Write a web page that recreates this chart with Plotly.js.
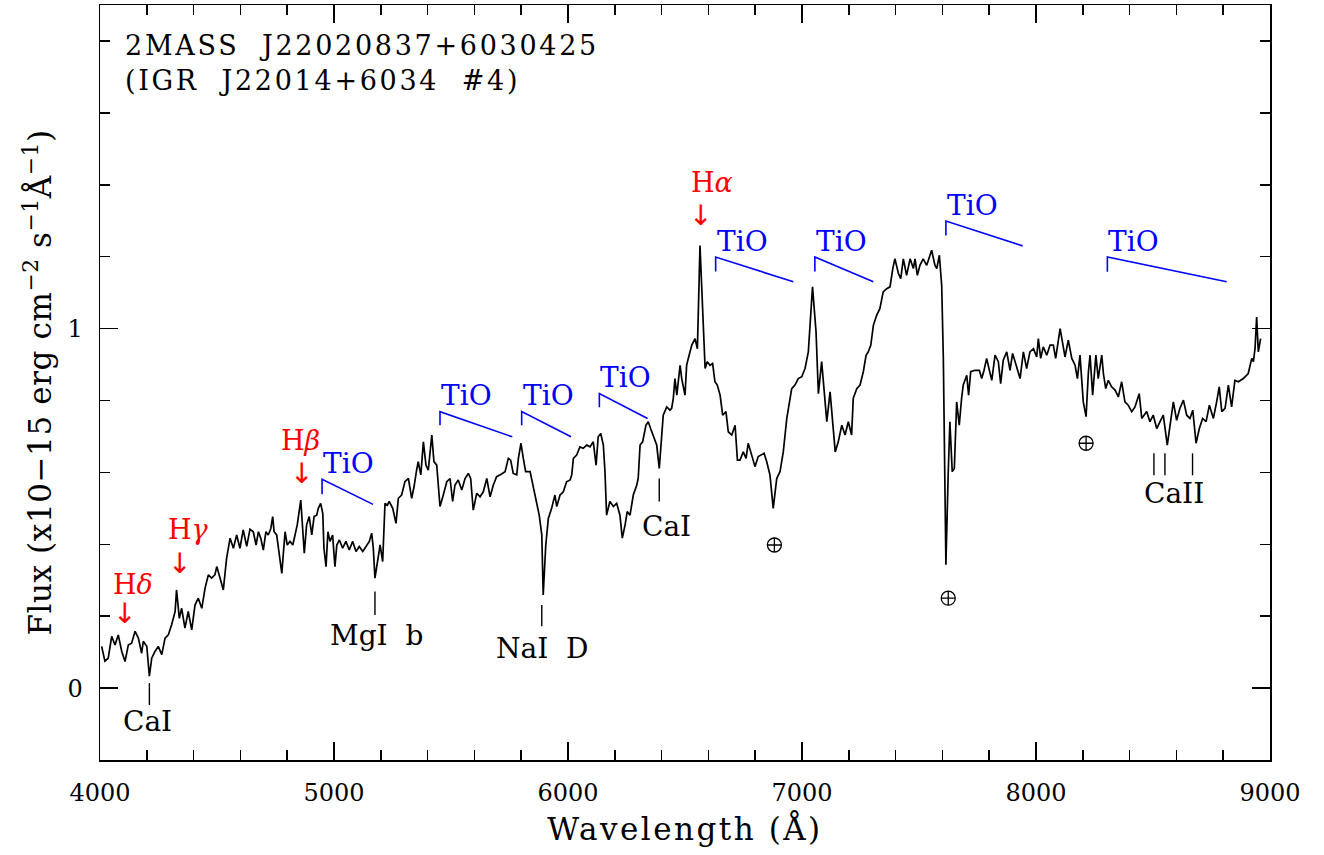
<!DOCTYPE html>
<html>
<head>
<meta charset="utf-8">
<script src="https://cdn.plot.ly/plotly-3.0.1.min.js"></script>
<style>
  html, body { margin: 0; padding: 0; background: #ffffff; }
  #chart { width: 1324px; height: 855px; }
  /* wide glyph spacing of the original (Hershey-like) lettering */
  text.gtitle { letter-spacing: 2.7px; }
  text.xtitle { letter-spacing: 2.5px; }
  text.ytitle { letter-spacing: 0.6px; }
</style>
</head>
<body>
<div id="chart"></div>
<script>
// ---------------- spectrum (wavelength in Angstrom, flux in 1e-15 erg cm-2 s-1 A-1) ----------------
const wavelength = [
  4007,4021,4035,4050,4064,4078,4093,4107,4121,4135,
  4150,4164,4178,4185,4200,4211,4221,4235,4249,4264,
  4278,4292,4306,4321,4327,4339,4349,4363,4377,4392,
  4406,4420,4435,4449,4463,4477,4491,4499,4513,4527,
  4541,4556,4570,4584,4598,4612,4627,4641,
  4655,4667,4677,4687,4698,4709,4719,4730,4738,4744,
  4755,4766,4777,4783,4791,4800,4812,4824,4833,4843,
  4858,4866,4873,4883,4894,4905,4915,4926,4933,4943,
  4952,4957,4966,4974,4983,4994,5004,5012,5023,5037,
  5051,5065,5080,5094,5108,5123,5137,5151,5161,5168,
  5175,5185,5197,5208,5218,5228,5236,5251,5265,5275,
  5289,5303,5318,5332,5342,5353,5360,5371,5382,5393,
  5403,5418,5427,5439,5453,
  5467,5482,5496,5507,5517,5531,5546,5560,5574,5584,
  5595,5610,5624,5638,5653,5667,5681,5695,5709,5731,
  5745,5755,5766,5781,5788,5799,5809,5819,5838,5852,
  5866,5877,5888,5894,5905,5916,5930,5944,5952,5966,
  5980,5994,6009,6016,6023,6037,6051,6065,6080,6094,
  6108,6120,6129,6140,6151,6158,6165,6179,6194,6208,
  6222,6232,6244,6253,6265,6279,6294,6300,6308,6319,
  6333,6343,6353,6365,6379,6390,6400,6407,6422,6436,
  6443,6450,6457,6465,6479,6486,6500,6507,6514,6529,
  6543,6553,6564,6576,6586,6595,6607,6618,6628,6638,
  6650,6661,6675,6685,6700,6714,6724,6735,6749,6761,
  6770,6785,6799,6813,6823,6838,6849,6863,6877,6892,
  6906,6920,6935,6949,6956,6970,6984,6999,7013,7027,
  7045,7060,7070,7084,7094,7106,7120,7134,7142,7155,
  7170,7184,7198,7212,7219,7234,7248,7262,7274,7283,
  7294,7305,7319,7333,7347,7362,7376,7388,7397,7412,
  7422,7433,7447,7462,7476,7483,7493,7504,7518,7533,
  7554,7568,7576,7587,7597,7604,7615,7625,7632,7642,
  7651,7661,7672,7682,7689,7704,7712,7721,7739,7758,
  7768,7778,7789,7799,7811,7825,7839,7849,7860,7875,
  7889,7900,7918,7932,7946,7960,7974,7989,8003,8010,
  8020,8031,8046,8060,8074,8084,8103,8114,8124,8138,
  8153,8167,8177,8188,8202,8214,8224,8231,8242,8256,
  8266,8281,8288,8298,8309,8323,8338,8352,8366,8380,
  8394,8409,8423,8441,8452,8473,8487,8501,8516,8530,
  8544,8561,8576,8587,8601,8615,8630,8644,8658,8670,
  8684,8698,8712,8727,8741,8758,8772,8783,8794,8808,
  8822,8836,8850,8865,8886,8907,8922,8929,8936,8943,
  8950,8960
];
const flux = [
  0.116,0.075,0.083,0.144,0.120,0.148,0.102,0.074,0.120,0.125,
  0.158,0.139,0.097,0.130,0.116,0.033,0.083,0.102,0.116,0.093,
  0.139,0.148,0.176,0.213,0.273,0.194,0.222,0.167,0.213,0.162,
  0.231,0.250,0.222,0.278,0.315,0.306,0.315,0.338,0.306,0.273,
  0.361,0.417,0.389,0.426,0.389,0.440,0.394,0.442,
  0.435,0.398,0.435,0.417,0.384,0.435,0.426,0.444,0.477,0.435,
  0.426,0.370,0.319,0.370,0.435,0.398,0.408,0.398,0.426,0.454,
  0.523,0.454,0.375,0.454,0.477,0.426,0.477,0.481,0.500,0.514,
  0.486,0.389,0.338,0.435,0.408,0.426,0.338,0.398,0.412,0.389,
  0.408,0.384,0.408,0.380,0.394,0.380,0.394,0.408,0.431,0.389,
  0.306,0.343,0.398,0.352,0.514,0.509,0.519,0.500,0.458,0.528,
  0.537,0.574,0.583,0.528,0.560,0.606,0.630,0.593,0.685,0.620,
  0.606,0.704,0.630,0.620,0.505,
  0.537,0.574,0.583,0.519,0.565,0.579,0.551,0.583,0.597,0.583,
  0.495,0.542,0.532,0.546,0.583,0.532,0.565,0.588,0.593,0.602,
  0.639,0.634,0.597,0.593,0.639,0.681,0.639,0.602,0.602,0.556,
  0.519,0.481,0.426,0.259,0.398,0.472,0.500,0.537,0.505,0.537,
  0.546,0.574,0.579,0.593,0.639,0.648,0.671,0.667,0.676,0.671,
  0.685,0.620,0.699,0.708,0.676,0.602,0.481,0.519,0.505,0.514,
  0.481,0.417,0.454,0.491,0.481,0.537,0.565,0.583,0.676,0.685,
  0.731,0.741,0.722,0.699,0.676,0.611,0.713,0.759,0.782,0.773,
  0.778,0.806,0.861,0.815,0.898,0.861,0.815,0.898,0.917,0.954,
  0.972,0.944,1.231,1.028,0.889,0.908,0.898,0.903,0.852,0.843,
  0.815,0.759,0.769,0.713,0.704,0.731,0.634,0.634,0.657,0.639,
  0.681,0.648,0.616,0.644,0.648,0.653,0.630,0.593,0.500,0.583,
  0.602,0.657,0.750,0.806,0.833,0.843,0.861,0.866,0.889,0.935,
  1.116,0.991,0.819,0.908,0.824,0.741,0.824,0.731,0.657,0.685,
  0.731,0.704,0.741,0.704,0.806,0.833,0.843,0.880,0.926,0.935,
  0.954,1.009,1.037,1.056,1.102,1.111,1.116,1.167,1.194,1.153,
  1.139,1.194,1.148,1.194,1.167,1.194,1.148,1.176,1.194,1.176,
  1.218,1.176,1.167,1.204,1.120,0.917,0.343,0.602,0.741,0.602,
  0.611,0.796,0.731,0.806,0.843,0.870,0.815,0.880,0.884,0.884,
  0.861,0.884,0.917,0.889,0.856,0.926,0.908,0.847,0.912,0.935,
  0.884,0.931,0.889,0.861,0.935,0.889,0.935,0.944,0.921,0.972,
  0.917,0.949,0.926,0.954,0.954,0.917,1.000,0.954,0.921,0.968,
  0.917,0.898,0.861,0.926,0.796,0.755,0.880,0.926,0.815,0.926,
  0.861,0.926,0.875,0.833,0.856,0.838,0.829,0.810,0.852,0.796,
  0.787,0.769,0.782,0.819,0.750,0.769,0.741,0.759,0.722,0.741,
  0.759,0.676,0.741,0.796,0.745,0.778,0.801,0.759,0.750,0.773,
  0.681,0.722,0.750,0.741,0.787,0.750,0.796,0.838,0.769,0.778,
  0.843,0.782,0.856,0.852,0.861,0.875,0.917,0.908,0.944,1.032,
  0.935,0.972
];

// ---------------- TiO band markers ----------------
const tioStart = [4949, 5453, 5802, 6134, 6631, 7055, 7615, 8305];
const tioEnd   = [5167, 5762, 6013, 6340, 6963, 7305, 7943, 8815];
const tioTop   = [0.581, 0.769, 0.769, 0.819, 1.199, 1.199, 1.299, 1.199];
const tioLow   = [0.539, 0.731, 0.731, 0.781, 1.159, 1.159, 1.259, 1.158];
const tioEndY  = [0.511, 0.699, 0.699, 0.750, 1.130, 1.130, 1.230, 1.130];

// ---------------- absorption line identifications ----------------
const lineLabels  = ["CaI", "MgI\u00a0\u00a0b", "NaI\u00a0\u00a0D", "CaI", "CaII"];
const lineLabelX  = [4205, 5180, 5889, 6419, 8590];
const lineLabelY  = [-0.092, 0.147, 0.111, 0.450, 0.542];
const lineTickX   = [4211, 5175, 5888, 6390, 8504, 8551, 8669];
const lineTickTop = [0.014, 0.269, 0.231, 0.583, 0.653, 0.653, 0.653];
const lineTickBot = [-0.047, 0.203, 0.172, 0.519, 0.592, 0.592, 0.592];

// ---------------- telluric features ----------------
const telluricX = [6882, 7625, 8214];
const telluricY = [0.398, 0.250, 0.681];

// ---------------- Balmer emission lines ----------------
const balmerLabels = ["H<i>δ</i>", "H<i>γ</i>", "H<i>β</i>", "H<i>α</i>"];
const balmerTextX  = [4139, 4378, 4855, 6615];
const balmerTextY  = [0.289, 0.440, 0.690, 1.407];
const balmerArrowX = [4103, 4338, 4859, 6568];
const balmerArrowY = [0.208, 0.347, 0.597, 1.315];

// ---------------- text ----------------
const titleLines = ["2MASS\u00a0\u00a0J22020837+6030425", "(IGR\u00a0\u00a0J22014+6034\u00a0\u00a0#4)"];
const xTitle = "Wavelength (Å)";
const yTitle = "Flux (x10−15 erg cm<sup>−2</sup> s<sup>−1</sup>Å<sup>−1</sup>)";

const BLUE = "#0000ff", RED = "#ff0000", BLACK = "#000000";
const FONT = "DejaVu Serif, Liberation Serif, serif";

// build segment traces
const tioX = [], tioY = [];
tioStart.forEach((s, i) => {
  tioX.push(s, s, tioEnd[i], null);
  tioY.push(tioLow[i], tioTop[i], tioEndY[i], null);
});
const tickX = [], tickY = [];
lineTickX.forEach((x, i) => {
  tickX.push(x, x, null);
  tickY.push(lineTickTop[i], lineTickBot[i], null);
});

const traces = [
  { x: wavelength, y: flux, type: "scatter", mode: "lines",
    line: { color: BLACK, width: 1.7 }, hoverinfo: "skip", showlegend: false },
  { x: tioX, y: tioY, type: "scatter", mode: "lines",
    line: { color: BLUE, width: 1.6 }, hoverinfo: "skip", showlegend: false },
  { x: tickX, y: tickY, type: "scatter", mode: "lines",
    line: { color: BLACK, width: 1.4 }, hoverinfo: "skip", showlegend: false },
  { x: telluricX, y: telluricY, type: "scatter", mode: "markers",
    marker: { symbol: "circle-cross-open", size: 14, color: BLACK, line: { width: 1.3, color: BLACK } },
    hoverinfo: "skip", showlegend: false }
];

const annotations = [];
tioStart.forEach((s, i) => {
  annotations.push({ x: s, y: tioTop[i], xref: "x", yref: "y", text: "TiO",
    showarrow: false, xanchor: "left", yanchor: "middle", xshift: -1, yshift: 16,
    font: { family: FONT, size: 28, color: BLUE } });
});
lineLabels.forEach((t, i) => {
  annotations.push({ x: lineLabelX[i], y: lineLabelY[i], xref: "x", yref: "y", text: t,
    showarrow: false, xanchor: "center", yanchor: "middle",
    font: { family: FONT, size: 28, color: BLACK } });
});
balmerLabels.forEach((t, i) => {
  annotations.push({ x: balmerTextX[i], y: balmerTextY[i], xref: "x", yref: "y", text: t,
    showarrow: false, xanchor: "center", yanchor: "middle",
    font: { family: FONT, size: 27, color: RED } });
  annotations.push({ x: balmerArrowX[i], y: balmerArrowY[i], xref: "x", yref: "y", text: "↓",
    showarrow: false, xanchor: "center", yanchor: "middle",
    font: { family: "DejaVu Sans, sans-serif", size: 28, color: RED } });
});

const axisCommon = {
  showgrid: false, zeroline: false, showline: true, linecolor: BLACK, linewidth: 1.5,
  mirror: "allticks", ticks: "inside", ticklen: 18, tickwidth: 1.5, tickcolor: BLACK,
  tickfont: { family: FONT, size: 24, color: BLACK }
};

const layout = {
  width: 1324, height: 855,
  margin: { l: 100, r: 54, t: 5, b: 95 },
  paper_bgcolor: "#ffffff", plot_bgcolor: "#ffffff",
  font: { family: FONT, color: BLACK },
  title: { text: titleLines.join("<br>"), x: 125 / 1324, xanchor: "left", xref: "container",
    y: 1 - 55 / 855, yref: "container", yanchor: "top",
    font: { family: FONT, size: 27, color: BLACK } },
  xaxis: Object.assign({}, axisCommon, {
    range: [4000, 9000], tick0: 4000, dtick: 1000, ticklabelstandoff: 11,
    minor: { dtick: 200, ticks: "inside", ticklen: 10, tickwidth: 1.5, tickcolor: BLACK, showgrid: false },
    title: { text: xTitle, standoff: 12, font: { family: FONT, size: 31, color: BLACK } }
  }),
  yaxis: Object.assign({}, axisCommon, {
    range: [-0.2, 1.9], tick0: 0, dtick: 1, ticklabelstandoff: 11,
    minor: { dtick: 0.2, ticks: "inside", ticklen: 10, tickwidth: 1.5, tickcolor: BLACK, showgrid: false },
    title: { text: yTitle, standoff: 6, font: { family: FONT, size: 31, color: BLACK } }
  }),
  annotations: annotations,
  showlegend: false
};

Plotly.newPlot("chart", traces, layout, { staticPlot: true, displayModeBar: false });
</script>
</body>
</html>
